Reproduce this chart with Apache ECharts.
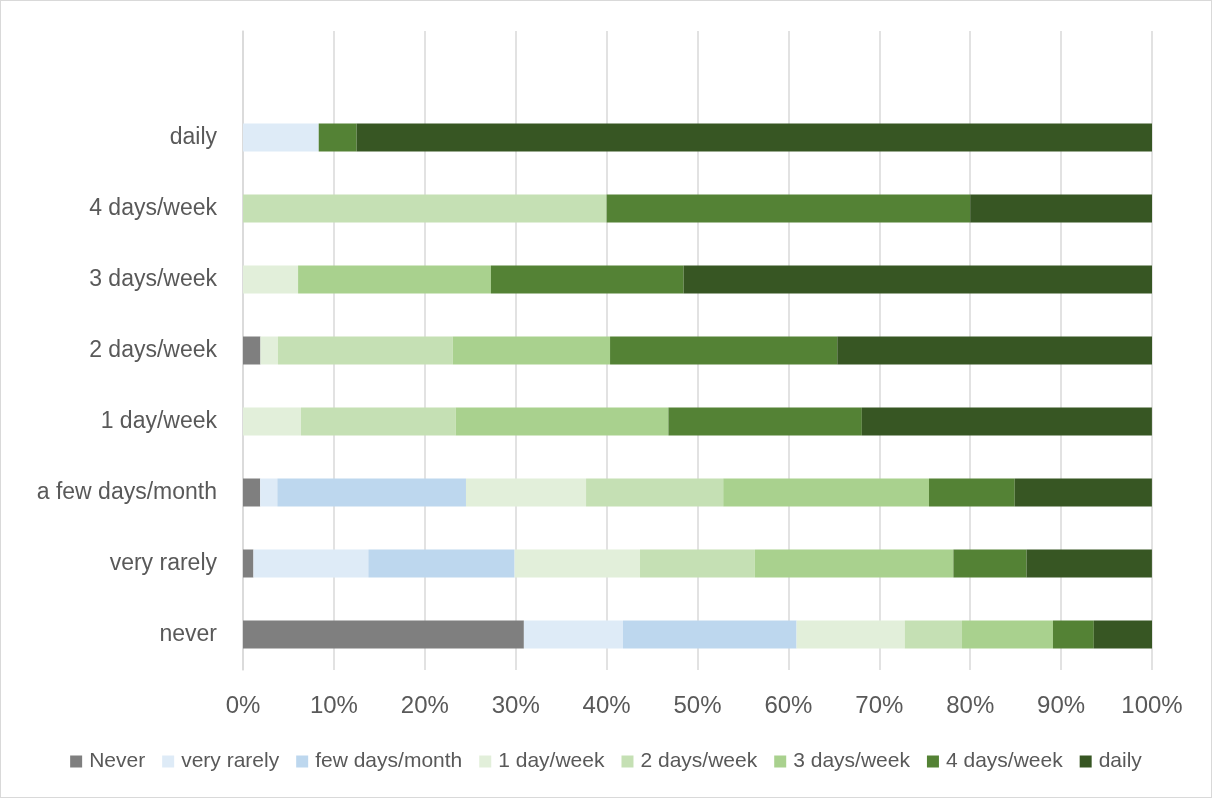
<!DOCTYPE html>
<html lang="en" style="height: 100%">
<head>
  <meta charset="utf-8">
</head>
<body style="height: 100%; margin: 0">
  <div id="container" style="height: 100%; box-sizing: border-box; border: 1px solid #d9d9d9"></div>

  <script type="text/javascript" src="https://fastly.jsdelivr.net/npm/echarts@6/dist/echarts.min.js"></script>

  <script type="text/javascript">
    // rows bottom to top; the last blank row is the empty slot Excel leaves at the top
    const categories = ['never', 'very rarely', 'a few days/month', '1 day/week', '2 days/week', '3 days/week', '4 days/week', 'daily', ''];
    const seriesNames = ['Never', 'very rarely', 'few days/month', '1 day/week', '2 days/week', '3 days/week', '4 days/week', 'daily'];
    const colors = ['#7f7f7f', '#deebf7', '#bdd7ee', '#e2efda', '#c5e0b4', '#a9d18e', '#548235', '#375623'];

    const never      = [30.9, 1.15, 1.89, 0, 1.92, 0, 0, 0];
    const veryRarely = [10.9, 12.64, 1.89, 0, 0, 0, 0, 8.33];
    const fewDays    = [19.1, 16.09, 20.75, 0, 0, 0, 0, 0];
    const oneDay     = [11.9, 13.79, 13.21, 6.38, 1.92, 6.06, 0, 0];
    const twoDays    = [6.3, 12.64, 15.09, 17.02, 19.23, 0, 40, 0];
    const threeDays  = [10.0, 21.84, 22.64, 23.40, 17.31, 21.21, 0, 0];
    const fourDays   = [4.5, 8.05, 9.43, 21.28, 25.0, 21.21, 40, 4.17];
    const daily      = [6.4, 13.79, 15.09, 31.91, 34.62, 51.52, 20, 87.5];

    const values = [never, veryRarely, fewDays, oneDay, twoDays, threeDays, fourDays, daily];
    const xTicks = [0, 100, 10];

    var dom = document.getElementById('container');
    var myChart = echarts.init(dom, null, { renderer: 'canvas' });

    var font = 'Liberation Sans';

    var option = {
      animation: false,
      textStyle: { fontFamily: font },
      legend: {
        bottom: 20,
        left: 'center',
        itemWidth: 12,
        itemHeight: 12,
        itemGap: 17,
        icon: 'rect',
        textStyle: { fontFamily: font, fontSize: 21, color: '#595959', padding: [0, 0, 0, 2] },
        data: seriesNames
      },
      grid: { left: 242, right: 59, top: 30, bottom: 127 },
      xAxis: {
        type: 'value',
        min: xTicks[0],
        max: xTicks[1],
        interval: xTicks[2],
        axisLine: { show: false },
        axisTick: { show: false },
        axisLabel: {
          formatter: '{value}%',
          fontFamily: font,
          fontSize: 24,
          color: '#595959',
          margin: 24
        },
        splitLine: { lineStyle: { color: '#d9d9d9', width: 1.5 } }
      },
      yAxis: {
        type: 'category',
        data: categories,
        axisLine: { lineStyle: { color: '#d9d9d9', width: 1.5 } },
        axisTick: { show: false },
        axisLabel: {
          fontFamily: font,
          fontSize: 23,
          color: '#595959',
          margin: 26
        }
      },
      series: seriesNames.map(function (name, i) {
        return {
          name: name,
          type: 'bar',
          stack: 'total',
          barWidth: 28,
          itemStyle: { color: colors[i] },
          data: values[i]
        };
      })
    };

    myChart.setOption(option);
    window.addEventListener('resize', myChart.resize);
  </script>
</body>
</html>
